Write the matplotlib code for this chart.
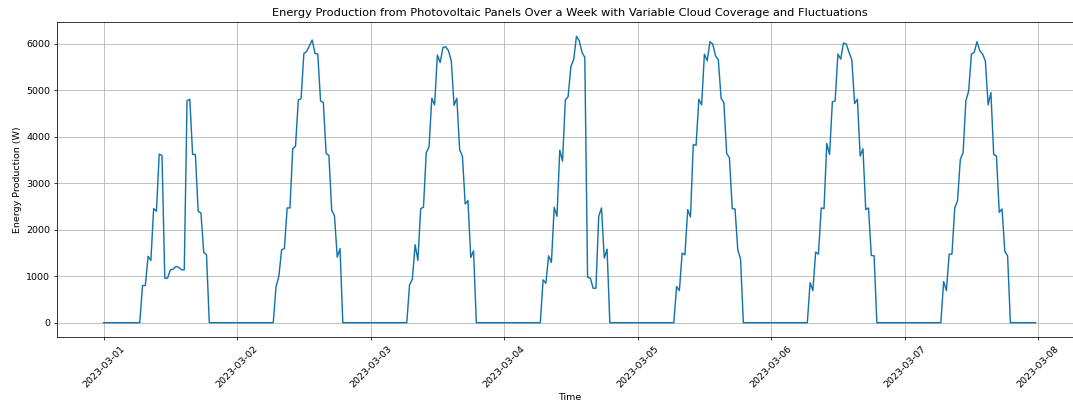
import numpy as np
import pandas as pd
import matplotlib
matplotlib.use("Agg")
import matplotlib.pyplot as plt
import matplotlib.dates as mdates

# half-hourly production from 07:00 to 18:30 for each day (W); zero otherwise
day1 = [800, 800, 1430, 1340, 2456, 2400, 3630, 3600, 958, 958, 1138, 1152,
        1210, 1195, 1138, 1138, 4775, 4810, 3622, 3622, 2400, 2360, 1512, 1462]
day2 = [778, 994, 1570, 1598, 2470, 2470, 3744, 3800, 4795, 4824, 5796, 5839,
        5960, 6086, 5796, 5782, 4775, 4740, 3644, 3600, 2420, 2304, 1411, 1598]
day3 = [814, 936, 1678, 1340, 2456, 2484, 3658, 3787, 4831, 4688, 5762, 5600,
        5926, 5940, 5854, 5638, 4680, 4831, 3730, 3586, 2556, 2628, 1404, 1548]
day4 = [922, 850, 1440, 1296, 2484, 2290, 3715, 3478, 4795, 4867, 5515, 5660,
        6165, 6070, 5820, 5710, 980, 958, 742, 742, 2290, 2470, 1390, 1584]
day5 = [778, 691, 1498, 1462, 2434, 2276, 3838, 3816, 4810, 4688, 5782, 5638,
        6050, 6000, 5746, 5660, 4831, 4738, 3644, 3550, 2456, 2448, 1570, 1368]
day6 = [864, 691, 1520, 1476, 2470, 2456, 3860, 3622, 4752, 4775, 5782, 5674,
        6020, 6000, 5820, 5660, 4716, 4810, 3586, 3744, 2434, 2470, 1447, 1440]
day7 = [886, 691, 1476, 1476, 2470, 2628, 3514, 3658, 4775, 4990, 5782, 5820,
        6050, 5854, 5782, 5638, 4688, 4954, 3622, 3586, 2376, 2448, 1534, 1440]
days = [day1, day2, day3, day4, day5, day6, day7]

times = pd.date_range("2023-03-01 00:00", periods=7 * 48, freq="30min")
night_before = [0] * 14   # 00:00 - 06:30
night_after = [0] * 10    # 19:00 - 23:30
production = []
for d in days:
    production += night_before + d + night_after

W, H = 1073, 405
fig = plt.figure(figsize=(W / 68.6, H / 68.6), dpi=68.6)
# the reference is cropped on the right, so the axes run past the figure edge
ax = fig.add_axes([57 / W, 1 - 337 / H, 1025 / W, 315 / H])
ax.plot(times, production, color="#1474aa", linewidth=1.5)
ax.set_title("Energy Production from Photovoltaic Panels Over a Week with Variable Cloud Coverage and Fluctuations")
ax.set_xlabel("Time")
ax.set_ylabel("Energy Production (W)")
ax.xaxis.set_major_locator(mdates.DayLocator())
ax.xaxis.set_major_formatter(mdates.DateFormatter("%Y-%m-%d"))
plt.setp(ax.get_xticklabels(), rotation=45)
ax.grid(True)
plt.savefig("out.png")
